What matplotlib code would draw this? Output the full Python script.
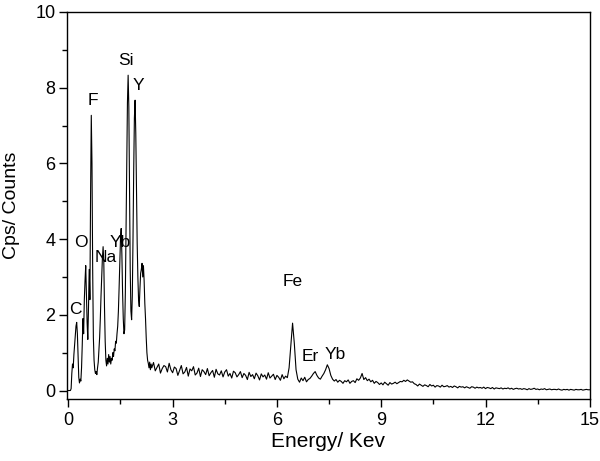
import numpy as np
import matplotlib
matplotlib.use("Agg")
import matplotlib.pyplot as plt
from matplotlib.ticker import MultipleLocator

plt.rcParams['font.family'] = ['Liberation Sans', 'DejaVu Sans']

# low energy part of the spectrum, 0.00 - 2.40 keV, one channel every 0.02 keV
e_low_start, e_low_step = 0.0, 0.02
counts_low = [
    0.0, 0.0, 0.0, 0.0, 0.05, 0.45, 0.7, 0.6, 0.95, 1.2,
    1.45, 1.7, 1.8, 1.5, 0.9, 0.35, 0.2, 0.3, 0.25, 0.6,
    1.2, 1.9, 1.5, 2.4, 2.9, 3.3, 2.6, 1.8, 1.35, 2.2,
    3.2, 2.4, 5.2, 7.27, 6.0, 3.2, 1.4, 0.8, 0.55, 0.45,
    0.5, 0.42, 0.6, 0.75, 1.1, 1.4, 1.9, 2.5, 3.0, 3.5,
    3.8, 3.4, 2.2, 1.3, 0.8, 0.65, 0.85, 0.7, 0.95, 0.75,
    0.9, 0.7, 0.85, 0.8, 1.0, 0.9, 1.1, 1.05, 1.3, 1.25,
    1.5, 1.7, 2.1, 2.7, 3.4, 4.0, 4.28, 3.6, 2.6, 1.9,
    1.5, 1.6, 2.6, 4.2, 6.0, 7.6, 8.33, 7.5, 5.2, 3.2,
    2.1, 1.87, 2.5, 4.0, 5.8, 7.2, 7.67, 6.8, 5.3, 3.9,
    3.0, 2.4, 2.22, 2.7, 3.1, 3.2, 3.36, 3.0, 3.3, 2.9,
    2.3, 1.9, 1.4, 1.0, 0.8, 0.72, 0.6, 0.75, 0.55, 0.7,
    0.6,
]

# high energy tail, 2.45 - 15.00 keV, one channel every 0.05 keV
e_high_start, e_high_step = 2.45, 0.05
counts_high = [
    0.74, 0.52, 0.61, 0.70, 0.46, 0.58, 0.66, 0.63, 0.49, 0.72, 0.55,
    0.47, 0.62, 0.58, 0.40, 0.53, 0.66, 0.44, 0.49, 0.61, 0.38,
    0.57, 0.52, 0.63, 0.41, 0.46, 0.59, 0.37, 0.55, 0.50, 0.42,
    0.58, 0.39, 0.47, 0.53, 0.35, 0.56, 0.44, 0.41, 0.52, 0.36,
    0.49, 0.55, 0.38, 0.45, 0.33, 0.51, 0.47, 0.36, 0.42, 0.50,
    0.34, 0.45, 0.40, 0.29, 0.48, 0.37, 0.42, 0.31, 0.46, 0.39,
    0.28, 0.44, 0.36, 0.41, 0.30, 0.47, 0.33, 0.38, 0.43, 0.29,
    0.40, 0.35, 0.27, 0.42, 0.31, 0.38, 0.34, 0.60, 1.20, 1.78,
    1.25, 0.55, 0.30, 0.22, 0.33, 0.26, 0.35, 0.23, 0.29, 0.32,
    0.38, 0.45, 0.50, 0.40, 0.33, 0.30, 0.38, 0.45, 0.55, 0.68,
    0.58, 0.40, 0.30, 0.25, 0.29, 0.22, 0.27, 0.24, 0.19, 0.26,
    0.23, 0.28, 0.19, 0.24, 0.26, 0.21, 0.31, 0.27, 0.33, 0.45,
    0.29, 0.34, 0.26, 0.30, 0.23, 0.27, 0.19, 0.24, 0.21, 0.16,
    0.20, 0.15, 0.22, 0.18, 0.14, 0.21, 0.17, 0.19, 0.22, 0.18,
    0.21, 0.24, 0.23, 0.27, 0.24, 0.28, 0.25, 0.22, 0.23, 0.18,
    0.16, 0.12, 0.17, 0.14, 0.11, 0.15, 0.13, 0.10, 0.16, 0.12,
    0.14, 0.09, 0.13, 0.12, 0.09, 0.14, 0.10, 0.11, 0.13, 0.09,
    0.11, 0.08, 0.12, 0.10, 0.07, 0.11, 0.09, 0.10, 0.07, 0.10,
    0.08, 0.06, 0.10, 0.09, 0.06, 0.09, 0.07, 0.08, 0.06, 0.09,
    0.05, 0.08, 0.07, 0.05, 0.08, 0.04, 0.07, 0.06, 0.05, 0.07,
    0.04, 0.06, 0.05, 0.07, 0.04, 0.06, 0.03, 0.05, 0.06, 0.04,
    0.05, 0.03, 0.05, 0.04, 0.02, 0.05, 0.03, 0.04, 0.06, 0.03,
    0.04, 0.02, 0.04, 0.03, 0.05, 0.02, 0.03, 0.04, 0.02, 0.03,
    0.03, 0.02, 0.04, 0.02, 0.01, 0.03, 0.02, 0.03, 0.01, 0.03,
    0.02, 0.01, 0.03, 0.02, 0.02, 0.03, 0.01, 0.02, 0.03, 0.02,
    0.02,
]

# element labels and where they sit (keV, counts)
elements = ['C', 'O', 'F', 'Na', 'Yb', 'Si', 'Y', 'Fe', 'Er', 'Yb']
label_x = [0.19, 0.37, 0.71, 1.08, 1.49, 1.66, 2.02, 6.44, 6.96, 7.67]
label_y = [2.13, 3.92, 7.67, 3.52, 3.92, 8.73, 8.06, 2.87, 0.90, 0.94]

e_low = e_low_start + e_low_step * np.arange(len(counts_low))
e_high = e_high_start + e_high_step * np.arange(len(counts_high))
energy = np.concatenate([e_low, e_high])
counts = np.concatenate([counts_low, counts_high])

fig = plt.figure(figsize=(6.0, 4.61), dpi=100)
ax = fig.add_axes([0.111, 0.134, 0.872, 0.840])

ax.plot(energy, counts, color='black', linewidth=0.8)

for name, x, y in zip(elements, label_x, label_y):
    ax.text(x, y, name, fontsize=12.5, ha='center', va='center')

ax.set_xlim(-0.05, 15)
ax.set_ylim(-0.23, 10)
ax.xaxis.set_major_locator(MultipleLocator(3))
ax.xaxis.set_minor_locator(MultipleLocator(1.5))
ax.yaxis.set_major_locator(MultipleLocator(2))
ax.yaxis.set_minor_locator(MultipleLocator(1))
ax.tick_params(which='major', direction='out', length=6, width=1, labelsize=13)
ax.tick_params(which='minor', direction='out', length=3.5, width=1)
ax.tick_params(axis='y', pad=2)
for s in ax.spines.values():
    s.set_linewidth(1)

ax.set_xlabel('Energy/ Kev', fontsize=15, labelpad=2)
ax.set_ylabel('Cps/ Counts', fontsize=14)
ax.yaxis.set_label_coords(-0.089, 0.5)

plt.savefig('out.png', dpi=100)
